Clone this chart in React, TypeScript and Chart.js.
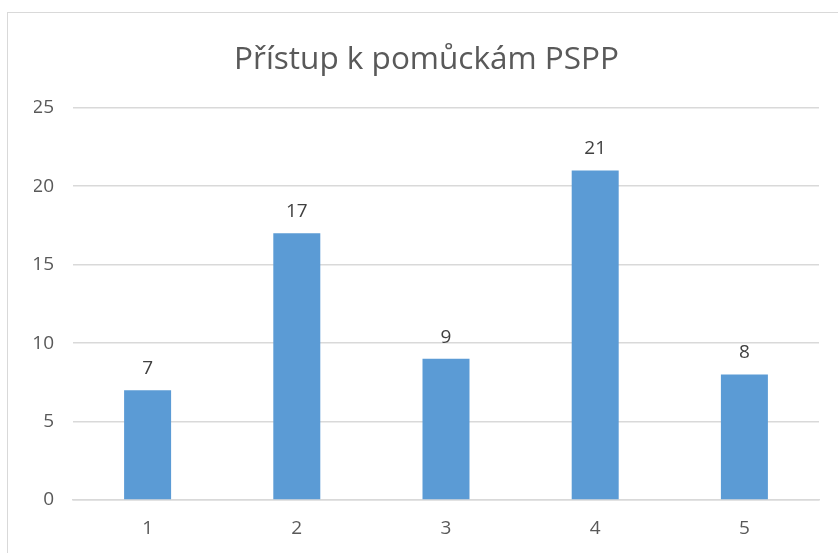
import React, { useEffect, useRef } from "react";
import { Chart, registerables } from "chart.js";

Chart.register(...registerables);

const categories = ["1", "2", "3", "4", "5"];
const values = [7, 17, 9, 21, 8];
const yTicks = [0, 5, 10, 15, 20, 25];
const titleText = "Přístup k pomůckám PSPP";

const FONT = "'Open Sans', 'Liberation Sans', sans-serif";

const valueLabels = {
  id: "valueLabels",
  afterDatasetsDraw(chart: any) {
    const ctx = chart.ctx;
    const meta = chart.getDatasetMeta(0);
    ctx.save();
    ctx.fillStyle = "#404040";
    ctx.font = `19px ${FONT}`;
    ctx.textAlign = "center";
    ctx.textBaseline = "bottom";
    meta.data.forEach((bar: any, i: number) => {
      ctx.fillText(String(values[i]), bar.x, bar.y - 12);
    });
    ctx.restore();
  },
};

export default function App() {
  const ref = useRef<HTMLCanvasElement | null>(null);
  useEffect(() => {
    if (!ref.current) return;
    const chart = new Chart(ref.current, {
      type: "bar",
      data: {
        labels: categories,
        datasets: [
          {
            data: values,
            backgroundColor: "#5B9BD5",
            borderWidth: 0,
            categoryPercentage: 1,
            barPercentage: 0.315,
          },
        ],
      },
      options: {
        animation: false,
        responsive: false,
        maintainAspectRatio: false,
        layout: { padding: { left: 34, right: 19, top: 0, bottom: 0 } },
        plugins: {
          legend: { display: false },
          tooltip: { enabled: false },
          title: {
            display: true,
            text: titleText,
            color: "#595959",
            font: { family: FONT, size: 31.5, weight: "normal" as any },
            padding: { top: 41, bottom: 29 },
          },
        },
        scales: {
          x: {
            grid: { display: false, drawTicks: false },
            border: { display: true, color: "#D9D9D9", width: 1.5 },
            afterFit: (s: any) => {
              s.height = 53;
            },
            ticks: {
              color: "#595959",
              font: { family: FONT, size: 19 },
              padding: 17,
            },
          },
          y: {
            min: 0,
            max: 25,
            afterBuildTicks: (s: any) => {
              s.ticks = yTicks.map((v) => ({ value: v }));
            },
            afterFit: (s: any) => {
              s.width = 39;
            },
            grid: { color: "#D9D9D9", lineWidth: 1.5, drawTicks: false },
            border: { display: false },
            ticks: {
              color: "#595959",
              font: { family: FONT, size: 19 },
              padding: 19,
            },
          },
        },
      },
      plugins: [valueLabels],
    });
    return () => chart.destroy();
  }, []);
  return (
    <div style={{ position: "fixed", left: 0, top: 0, width: 838, height: 553, background: "#fff", overflow: "hidden" }}>
      <div
        style={{
          position: "absolute",
          left: 7,
          top: 12,
          width: 900,
          height: 600,
          border: "1.5px solid #D9D9D9",
        }}
      />
      <canvas ref={ref} width={838} height={553} style={{ position: "absolute", left: 0, top: 0 }} />
    </div>
  );
}
